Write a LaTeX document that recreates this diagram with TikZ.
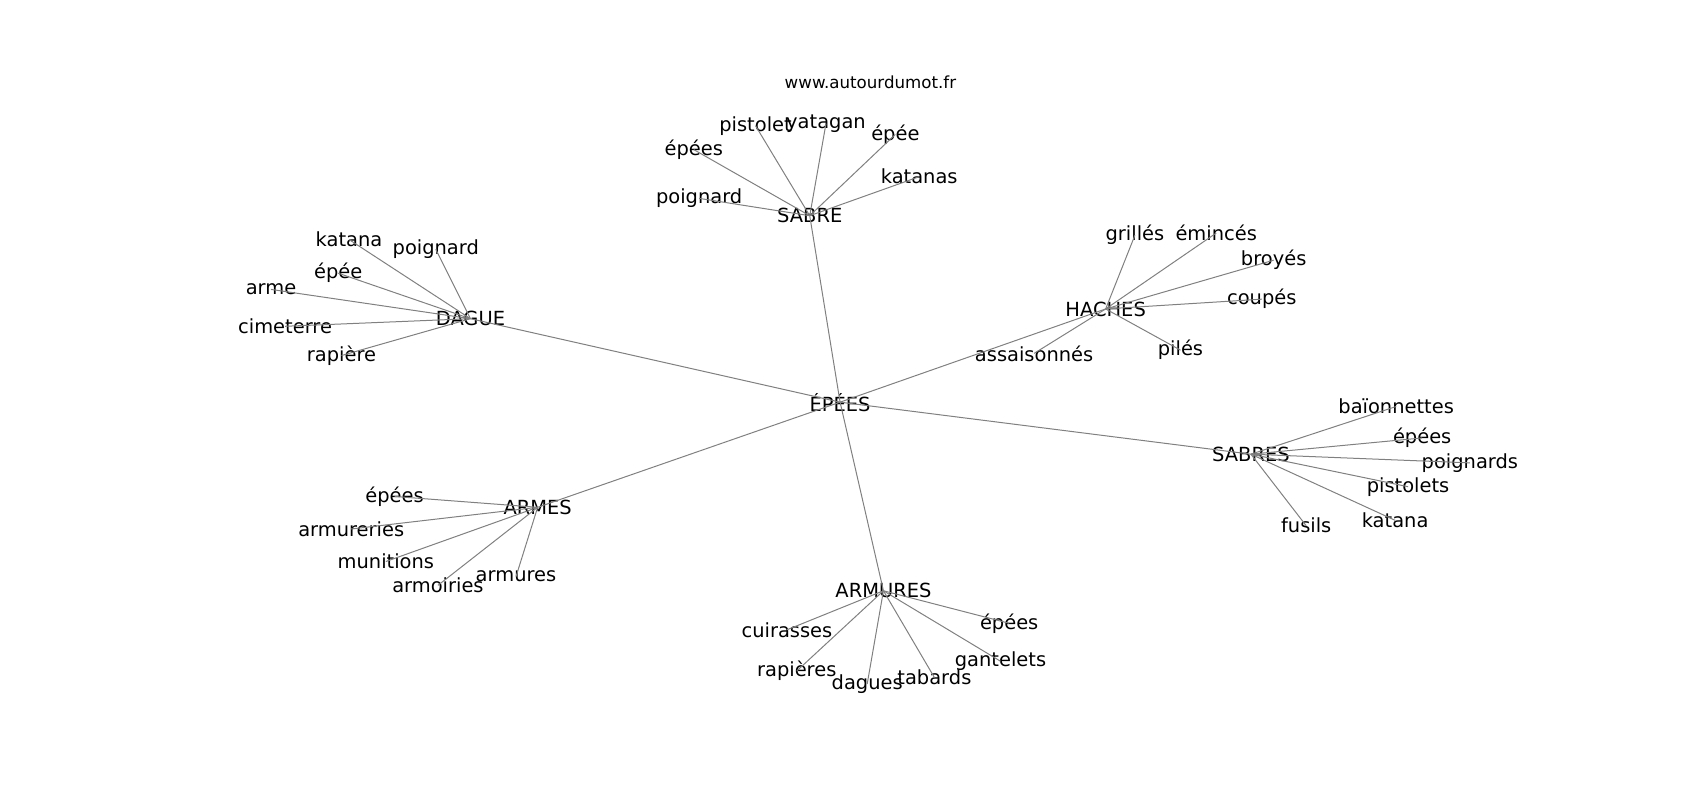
\documentclass[tikz,border=0pt]{standalone}
\usepackage{fontspec}
\setmainfont{DejaVu Sans}
\usepackage{xcolor}
\usepackage{tikz}

\begin{document}
\begin{tikzpicture}[x=0.7805pt, y=-0.7805pt,
    word/.style={inner sep=0pt, font=\fontsize{14}{16}\selectfont},
    link/.style={draw=gray, line width=0.72pt}]
    \useasboundingbox (0,0) rectangle (1568.3,738);
    \node[inner sep=0pt, font=\fontsize{12}{14}\selectfont] (site) at (803,76) {www.autourdumot.fr};
    % centre
    \node[word] (epees) at (775,371) {ÉPÉES};
    % SABRE
    \node[word] (sabre) at (747,199) {SABRE};
    \node[word] (sabre1) at (645,183) {poignard};
    \node[word] (sabre2) at (640,138) {épées};
    \node[word] (sabre3) at (697,116) {pistolet};
    \node[word] (sabre4) at (762,114) {yatagan};
    \node[word] (sabre5) at (826,124) {épée};
    \node[word] (sabre6) at (848,163) {katanas};
    % DAGUE
    \node[word] (dague) at (434,294) {DAGUE};
    \node[word] (dague1) at (322,221) {katana};
    \node[word] (dague2) at (402,230) {poignard};
    \node[word] (dague3) at (312,252) {épée};
    \node[word] (dague4) at (250,267) {arme};
    \node[word] (dague5) at (263,301) {cimeterre};
    \node[word] (dague6) at (315,328) {rapière};
    % HACHES
    \node[word] (haches) at (1020,285) {HACHES};
    \node[word] (haches1) at (1047,217) {grillés};
    \node[word] (haches2) at (1122,215) {émincés};
    \node[word] (haches3) at (1175,240) {broyés};
    \node[word] (haches4) at (1164,276) {coupés};
    \node[word] (haches5) at (1089,323) {pilés};
    \node[word] (haches6) at (954,326) {assaisonnés};
    % SABRES
    \node[word] (sabres) at (1154,419) {SABRES};
    \node[word] (sabres1) at (1288,375) {baïonnettes};
    \node[word] (sabres2) at (1312,404) {épées};
    \node[word] (sabres3) at (1356,427) {poignards};
    \node[word] (sabres4) at (1299,449) {pistolets};
    \node[word] (sabres5) at (1287,480) {katana};
    \node[word] (sabres6) at (1205,485) {fusils};
    % ARMES
    \node[word] (armes) at (496,468) {ARMES};
    \node[word] (armes1) at (364,458) {épées};
    \node[word] (armes2) at (324,488) {armureries};
    \node[word] (armes3) at (356,518) {munitions};
    \node[word] (armes4) at (404,540) {armoiries};
    \node[word] (armes5) at (476,532) {armures};
    % ARMURES
    \node[word] (armures) at (815,545) {ARMURES};
    \node[word] (armures1) at (726,581) {cuirasses};
    \node[word] (armures2) at (735,619) {rapières};
    \node[word] (armures3) at (800,631) {dagues};
    \node[word] (armures4) at (862,625) {tabards};
    \node[word] (armures5) at (923,610) {gantelets};
    \node[word] (armures6) at (931,575) {épées};

    \foreach \hub in {sabre,dague,haches,sabres,armes,armures}
        \draw[link] (epees.center) -- (\hub.center);
    \foreach \i in {1,...,6} {
        \draw[link] (sabre.center) -- (sabre\i.center);
        \draw[link] (dague.center) -- (dague\i.center);
        \draw[link] (haches.center) -- (haches\i.center);
        \draw[link] (sabres.center) -- (sabres\i.center);
        \draw[link] (armures.center) -- (armures\i.center);
    }
    \foreach \i in {1,...,5}
        \draw[link] (armes.center) -- (armes\i.center);
\end{tikzpicture}
\end{document}
